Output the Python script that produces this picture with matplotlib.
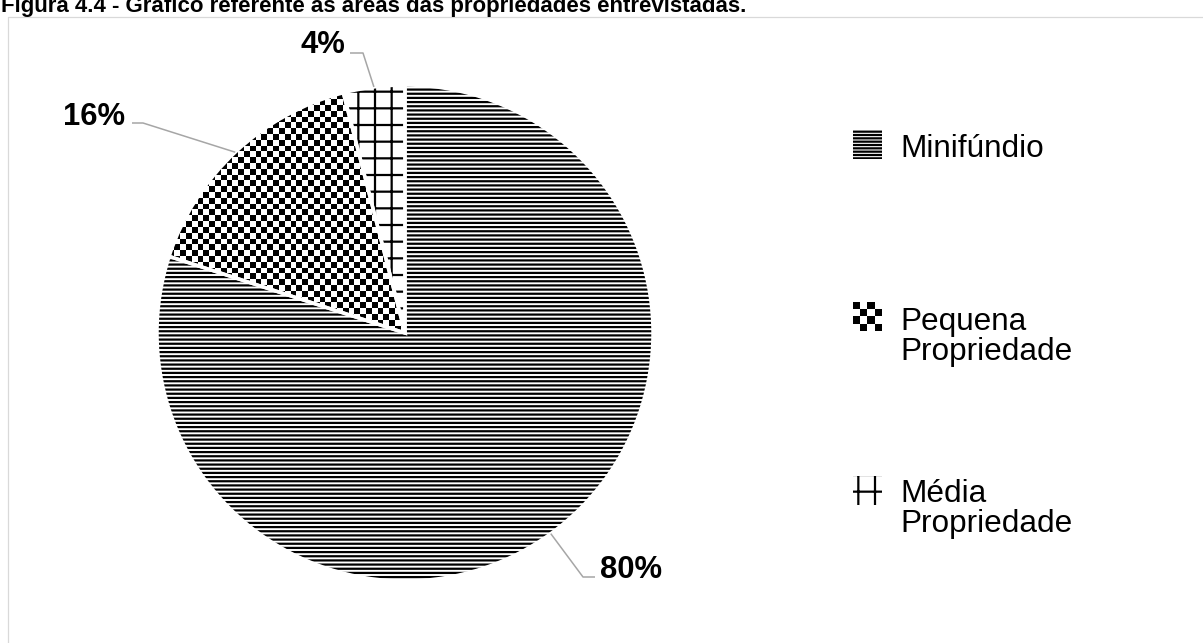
import numpy as np
import matplotlib
matplotlib.use("Agg")
import matplotlib.pyplot as plt
from matplotlib.patches import Rectangle, Wedge

# ---- data ----
categories = ["Minifúndio", "Pequena Propriedade", "Média Propriedade"]
legend_labels = ["Minifúndio", "Pequena\nPropriedade", "Média\nPropriedade"]
shares = [80, 16, 4]
pct_labels = ["80%", "16%", "4%"]
title = "Figura 4.4 - Gráfico referente às áreas das propriedades entrevistadas."

plt.rcParams["font.family"] = ["Liberation Sans", "DejaVu Sans"]
plt.rcParams["hatch.linewidth"] = 1.6

W, H = 1203, 643
fig = plt.figure(figsize=(W / 100, H / 100), dpi=100)
ax = fig.add_axes([0, 0, 1, 1])


def Y(top):
    """Convert a distance from the top edge into axes y (pixel units)."""
    return H - top


# ---- pie ----
cx, cy, R = 405, Y(333), 248
wedges, _ = ax.pie(shares, startangle=90, counterclock=False,
                   center=(cx, cy), radius=R, colors=["white"] * 3,
                   wedgeprops=dict(linewidth=0, edgecolor="black"))
hatches = ["----", None, "+"]
for w, h in zip(wedges, hatches):
    w.set_edgecolor("black")
    w.set_linewidth(0)
    if h:
        w.set_hatch(h)


def checker(n_rows, n_cols):
    return np.add.outer(np.arange(n_rows), np.arange(n_cols)) % 2


# checkerboard fill for the "Pequena Propriedade" slice
sq = 5.8
n = int(np.ceil(2 * R / sq)) + 1
im = ax.imshow(checker(n, n), cmap="gray", vmin=0, vmax=1,
               interpolation="nearest",
               extent=(cx - R, cx - R + n * sq, cy - R, cy - R + n * sq),
               zorder=wedges[1].get_zorder() + 0.1)
im.set_clip_path(wedges[1])

# white separators between slices
for w in wedges:
    ax.add_patch(Wedge(w.center, w.r, w.theta1, w.theta2, facecolor="none",
                       edgecolor="white", linewidth=2.5, zorder=5))

# ---- percentage labels with leader lines ----
label_layout = [
    dict(xy=(600, 578), ha="left", path=[(583, 577), (595, 577)]),
    dict(xy=(125, 125), ha="right", path=[(143, 123), (132, 123)]),
    dict(xy=(345, 53), ha="right", path=[(363, 53), (350, 53)]),
]
for w, lab, lay in zip(wedges, pct_labels, label_layout):
    mid = np.deg2rad((w.theta1 + w.theta2) / 2)
    px, py = cx + R * np.cos(mid), cy + R * np.sin(mid)
    xs = [px] + [p[0] for p in lay["path"]]
    ys = [py] + [Y(p[1]) for p in lay["path"]]
    ax.plot(xs, ys, color="#a6a6a6", lw=1.1, zorder=6,
            solid_capstyle="butt")
    ax.text(lay["xy"][0], Y(lay["xy"][1]), lab, ha=lay["ha"], va="baseline",
            fontsize=22.3, fontweight="bold", color="black", zorder=7)

# ---- legend ----
marker_x, marker_size = 853, 29
marker_tops = [130, 302, 476]
text_baselines = [157, 330, 502]
line_step = 30
legend_hatches = ["-----", None, "+"]
for lab, top, base, h in zip(legend_labels, marker_tops, text_baselines,
                             legend_hatches):
    x0, y0 = marker_x, Y(top + marker_size)
    if h:
        ax.add_patch(Rectangle((x0, y0), marker_size, marker_size,
                               facecolor="white", edgecolor="black",
                               linewidth=0, hatch=h))
    else:
        ax.imshow(checker(4, 4), cmap="gray", vmin=0, vmax=1,
                  interpolation="nearest",
                  extent=(x0, x0 + marker_size, y0, y0 + marker_size))
    for i, line in enumerate(lab.split("\n")):
        ax.text(900, Y(base + i * line_step), line, ha="left",
                va="baseline", fontsize=22.7, color="black")

# ---- title and frame ----
ax.text(1, Y(12), title, ha="left", va="baseline", fontsize=16,
        fontweight="bold", color="black")
ax.plot([8, 8, 1210], [Y(700), Y(17), Y(17)], color="#d9d9d9", lw=0.9)

ax.set_xlim(0, W)
ax.set_ylim(0, H)
ax.set_aspect("auto")
ax.axis("off")

fig.savefig("out.png", dpi=100)
